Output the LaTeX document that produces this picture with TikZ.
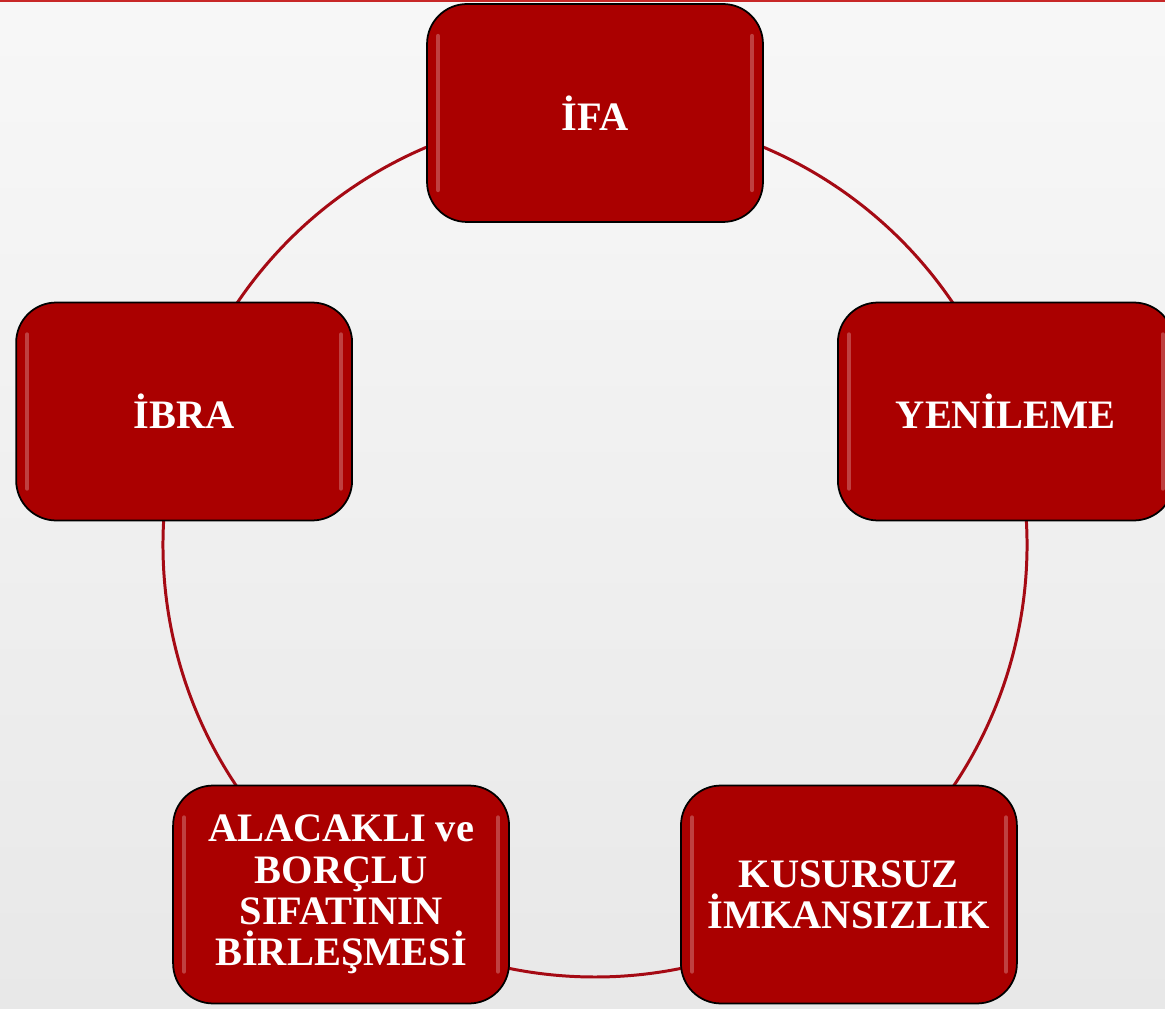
\documentclass[tikz,border=0pt]{standalone}
\usepackage{fontspec}
\setmainfont{Liberation Serif}
\usetikzlibrary{calc,positioning,backgrounds}

\definecolor{boxred}{RGB}{170,0,0}
\definecolor{ringred}{RGB}{165,10,20}
\definecolor{topred}{RGB}{200,40,40}

\begin{document}
\begin{tikzpicture}[x=0.02cm, y=0.02cm]
    \tikzset{cyclebox/.style = {draw=black, line width=1pt, fill=boxred,
        rounded corners=0.8cm, minimum width=6.72cm, minimum height=4.36cm,
        text=white, align=center, font=\fontsize{23}{23.5}\selectfont\bfseries,
        path picture={
          \draw[white, opacity=0.25, line width=2.5pt, line cap=round]
            ($(path picture bounding box.north west)+(11,-32)$) --
            ($(path picture bounding box.south west)+(11,32)$);
          \draw[white, opacity=0.25, line width=2.5pt, line cap=round]
            ($(path picture bounding box.north east)+(-11,-32)$) --
            ($(path picture bounding box.south east)+(-11,32)$);}},
      ring/.style = {draw=ringred, line width=1.7pt}}
    \useasboundingbox (0,0) rectangle (1165,1008);
    \coordinate (c) at (595,463);
    \node[cyclebox] (ifa) at ($(c)+(90:432)$) {İFA};
    \node[cyclebox] (yenileme) at ($(c)+(18:432)$) {YENİLEME};
    \node[cyclebox] (kusursuz) at ($(c)+(-54:432)$) {KUSURSUZ\\İMKANSIZLIK};
    \node[cyclebox] (alacakli) at ($(c)+(-126:432)$) {ALACAKLI ve\\BORÇLU\\SIFATININ\\BİRLEŞMESİ};
    \node[cyclebox] (ibra) at ($(c)+(162:432)$) {İBRA};
    \begin{scope}[on background layer]
    \shade[top color=gray!6, bottom color=gray!18] (0,0) rectangle (1165,1008);
    \draw[topred, line width=1pt] (0,1007) -- (1165,1007);
    \foreach \n/\s/\e in {ifa/90/18, yenileme/18/-54, kusursuz/-54/-126,
        alacakli/-126/-198, ibra/162/90}
      \draw[ring] (\n.center) arc[start angle=\s, end angle=\e, radius=432];
    \end{scope}
\end{tikzpicture}
\end{document}
